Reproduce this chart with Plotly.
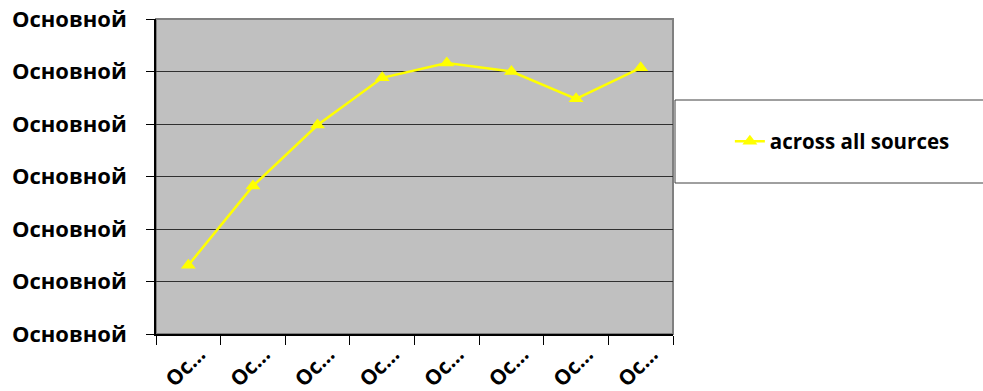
import plotly.graph_objects as go

categories = ["Ос…"] * 8
cat_ids = ["c1", "c2", "c3", "c4", "c5", "c6", "c7", "c8"]
values = [1.31, 2.82, 3.98, 4.88, 5.16, 5.0, 4.48, 5.07]
y_tickvals = [0, 1, 2, 3, 4, 5, 6]
y_ticktext = ["Основной"] * 7
series_name = "across all sources"

FONT = "Open Sans"

fig = go.Figure()
fig.add_trace(go.Scatter(
    x=cat_ids, y=values, name=series_name, mode="lines+markers",
    line=dict(color="#FFFF00", width=2.5),
    marker=dict(symbol="triangle-up", size=13, color="#FFFF00"),
))

fig.update_layout(
    width=983, height=391,
    margin=dict(l=156, r=310, t=19, b=57),
    paper_bgcolor="white", plot_bgcolor="#C0C0C0",
    font=dict(family=FONT, size=16, color="black"),
    showlegend=True,
    legend=dict(x=1.11, y=0.611, xanchor="left", yanchor="middle",
                bgcolor="rgba(0,0,0,0)", borderwidth=0,
                font=dict(family=FONT, size=20.5, color="black", weight="bold")),
    shapes=[
        dict(type="rect", xref="paper", yref="paper", x0=0, x1=1, y0=0, y1=1,
             line=dict(color="#808080", width=2), layer="below"),
        dict(type="rect", xref="paper", yref="paper",
             x0=(675 - 156) / 517, x1=(995 - 156) / 517,
             y0=(334 - 183) / 315, y1=(334 - 100) / 315,
             line=dict(color="#404040", width=1), fillcolor="rgba(0,0,0,0)"),
    ],
)

fig.update_xaxes(
    type="category", categoryorder="array", categoryarray=cat_ids,
    tickvals=cat_ids, ticktext=categories,
    range=[-0.5, 7.5], tickson="boundaries",
    ticks="outside", ticklen=9, tickcolor="black", tickwidth=1,
    showline=True, linecolor="black", linewidth=1.5,
    showgrid=False, zeroline=False, automargin=False,
    tickangle=-45, ticklabelshift=11, ticklabelstandoff=-2,
    tickfont=dict(family=FONT, size=21, color="black", weight="bold"),
)
fig.update_yaxes(
    range=[0, 6], tickvals=y_tickvals, ticktext=y_ticktext,
    ticks="outside", ticklen=8, tickcolor="black", tickwidth=1,
    showline=True, linecolor="black", linewidth=1.5,
    showgrid=True, gridcolor="#303030", gridwidth=1.3,
    zeroline=False, ticklabelstandoff=15, automargin=False,
    tickfont=dict(family=FONT, size=22, color="black", weight="bold"),
)

fig.write_html("out.html")
